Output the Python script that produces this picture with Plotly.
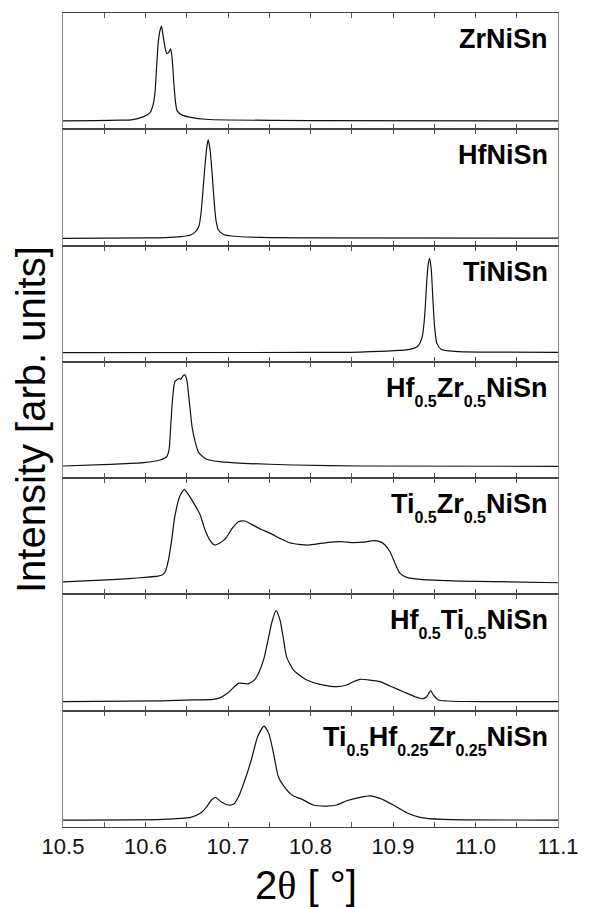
import plotly.graph_objects as go
from plotly.subplots import make_subplots

# 2-theta (degrees) and normalised intensity for each composition
samples = [
    ("ZrNiSn",),
    ("HfNiSn",),
    ("TiNiSn",),
    ("Hf", "0.5", "Zr", "0.5", "NiSn"),
    ("Ti", "0.5", "Zr", "0.5", "NiSn"),
    ("Hf", "0.5", "Ti", "0.5", "NiSn"),
    ("Ti", "0.5", "Hf", "0.25", "Zr", "0.25", "NiSn"),
]

zr_x = [10.500, 10.540, 10.570, 10.583, 10.597, 10.6055, 10.6095, 10.6115, 10.6136, 10.6155,
        10.6175, 10.6194, 10.6208, 10.6222, 10.6240, 10.6259, 10.6280, 10.6305, 10.6323,
        10.6343, 10.6364, 10.6384, 10.6445, 10.6566, 10.6727, 10.700, 10.800, 11.100]
zr_y = [0.000, 0.004, 0.008, 0.011, 0.043, 0.088, 0.180, 0.300, 0.585, 0.833,
        0.950, 1.000, 0.930, 0.850, 0.760, 0.710, 0.720, 0.760, 0.656,
        0.407, 0.195, 0.106, 0.061, 0.035, 0.018, 0.010, 0.004, 0.000]

hf_x = [10.500, 10.600, 10.6232, 10.6429, 10.6547, 10.6606, 10.6646, 10.6673, 10.6697, 10.6720,
        10.6744, 10.6760, 10.6783, 10.6807, 10.6831, 10.6854, 10.6882, 10.6941, 10.7040,
        10.7388, 10.800, 11.100]
hf_y = [0.000, 0.005, 0.008, 0.018, 0.035, 0.069, 0.120, 0.255, 0.490, 0.725,
        0.927, 1.000, 0.894, 0.658, 0.387, 0.185, 0.090, 0.043, 0.025,
        0.010, 0.006, 0.003]

ti_x = [10.500, 10.800, 10.8597, 10.9202, 10.9302, 10.9355, 10.9383, 10.9403, 10.9423, 10.9444,
        10.9464, 10.9484, 10.9504, 10.9532, 10.9585, 10.9806, 11.020, 11.100]
ti_y = [0.000, 0.003, 0.007, 0.035, 0.071, 0.170, 0.380, 0.664, 0.912, 1.000,
        0.876, 0.558, 0.276, 0.099, 0.035, 0.011, 0.006, 0.004]

hfzr_x = [10.500, 10.557, 10.5974, 10.6176, 10.6257, 10.6285, 10.6305, 10.6330, 10.6355, 10.6380,
          10.6410, 10.6428, 10.6455, 10.6475, 10.6498, 10.6525, 10.6565, 10.6605, 10.6645,
          10.6741, 10.6903, 10.7186, 10.7792, 10.860, 11.100]
hfzr_y = [0.004, 0.022, 0.040, 0.069, 0.106, 0.180, 0.430, 0.760, 0.925, 0.945,
          0.962, 0.952, 0.990, 1.000, 0.960, 0.760, 0.430, 0.260, 0.150,
          0.077, 0.051, 0.033, 0.015, 0.004, 0.000]

tizr_x = [10.500, 10.540, 10.580, 10.600, 10.615, 10.6201, 10.6239, 10.6278, 10.6317, 10.6355,
          10.6413, 10.6445, 10.6471, 10.6510, 10.6587, 10.6664, 10.6722, 10.6780, 10.6838,
          10.6896, 10.6973, 10.7050, 10.7127, 10.7205, 10.7282, 10.7398, 10.7514, 10.7630,
          10.7745, 10.7861, 10.7977, 10.8034, 10.8196, 10.8358, 10.8519, 10.8640, 10.8762,
          10.8842, 10.8903, 10.8964, 10.9024, 10.9085, 10.9166, 10.9327, 10.9812, 11.100]
tizr_y = [0.010, 0.025, 0.045, 0.058, 0.070, 0.082, 0.118, 0.243, 0.457, 0.707,
          0.921, 0.974, 1.000, 0.957, 0.850, 0.724, 0.564, 0.457, 0.404,
          0.422, 0.475, 0.582, 0.653, 0.661, 0.628, 0.572, 0.529, 0.475,
          0.428, 0.411, 0.404, 0.410, 0.430, 0.440, 0.430, 0.435, 0.450,
          0.440, 0.404, 0.332, 0.208, 0.100, 0.058, 0.036, 0.018, 0.000]

hfti_x = [10.500, 10.620, 10.6587, 10.6819, 10.6915, 10.6992, 10.7069, 10.7127, 10.7185, 10.7243,
          10.7320, 10.7378, 10.7436, 10.7494, 10.7533, 10.7583, 10.7630, 10.7668, 10.7711,
          10.7792, 10.7900, 10.7977, 10.8115, 10.8317, 10.8438, 10.8519, 10.8600, 10.8721,
          10.8842, 10.8964, 10.9125, 10.9267, 10.9368, 10.9408, 10.9457, 10.9489, 10.9550,
          10.9650, 11.0216, 11.100]
hfti_y = [0.000, 0.010, 0.020, 0.026, 0.048, 0.092, 0.158, 0.202, 0.202, 0.195,
          0.238, 0.330, 0.477, 0.714, 0.879, 1.000, 0.898, 0.714, 0.490,
          0.350, 0.270, 0.230, 0.191, 0.165, 0.184, 0.220, 0.246, 0.238,
          0.220, 0.173, 0.110, 0.055, 0.033, 0.055, 0.121, 0.074, 0.019,
          0.008, 0.000, 0.000]

tihfzr_x = [10.500, 10.6201, 10.6548, 10.6664, 10.6741, 10.6799, 10.6849, 10.6915, 10.7004, 10.7069,
            10.7127, 10.7205, 10.7282, 10.7359, 10.7436, 10.7494, 10.7552, 10.7610, 10.7668,
            10.7784, 10.7900, 10.8034, 10.8196, 10.8317, 10.8438, 10.8600, 10.8721, 10.8842,
            10.9004, 10.9166, 10.9327, 10.9610, 11.100]
tihfzr_y = [0.000, 0.007, 0.029, 0.071, 0.141, 0.213, 0.241, 0.195, 0.160, 0.170,
            0.248, 0.426, 0.638, 0.886, 1.000, 0.922, 0.710, 0.461, 0.372,
            0.260, 0.220, 0.160, 0.149, 0.160, 0.205, 0.241, 0.258, 0.230,
            0.160, 0.078, 0.029, 0.007, 0.000]

series_x = [zr_x, hf_x, ti_x, hfzr_x, tizr_x, hfti_x, tihfzr_x]
series_y = [zr_y, hf_y, ti_y, hfzr_y, tizr_y, hfti_y, tihfzr_y]

# vertical window of each panel (baseline 0, strongest reflection 1)
y_ranges = [(-0.088, 1.138), (-0.072, 1.103), (-0.097, 1.135), (-0.129, 1.143),
            (-0.125, 1.120), (-0.099, 1.179), (-0.074, 1.163)]

x_ticks = [10.5, 10.6, 10.7, 10.8, 10.9, 11.0, 11.1]
x_minor = [10.55, 10.65, 10.75, 10.85, 10.95, 11.05]

W, H = 606, 907
ML, MR, MT, MB = 63, 48, 13, 80
n = len(samples)


def formula(parts):
    # element symbols alternate with their (smaller, lowered) fractions
    out = []
    for k, p in enumerate(parts):
        if k % 2 == 1:
            out.append(f'<sub><sub><span style="font-size:16px">{p}</span></sub></sub>')
        else:
            out.append(p)
    return "<b>" + "".join(out) + "</b>"


fig = make_subplots(rows=n, cols=1, shared_xaxes=True, vertical_spacing=0)

for i in range(n):
    fig.add_trace(
        go.Scatter(x=series_x[i], y=series_y[i], mode="lines",
                   line=dict(color="#111111", width=1.2, shape="spline", smoothing=0.6),
                   showlegend=False, hoverinfo="skip"),
        row=i + 1, col=1)
    fig.update_yaxes(range=list(y_ranges[i]), row=i + 1, col=1)

fig.update_xaxes(
    range=[10.5, 11.1], tickvals=x_ticks, ticktext=[f"{v:.1f}" for v in x_ticks],
    ticks="inside", ticklen=5, tickwidth=1, tickcolor="#555555",
    minor=dict(tickvals=x_minor, ticks="inside", ticklen=5, tickwidth=1, tickcolor="#555555"),
    showline=True, linecolor="#444444", linewidth=1, mirror="ticks",
    showgrid=False, zeroline=False,
    tickfont=dict(family="Liberation Sans, Arial", size=22, color="#111111"),
)
fig.update_yaxes(
    showline=True, linecolor="#8a8a8a", linewidth=1.2, mirror=True,
    showticklabels=False, ticks="", showgrid=False, zeroline=False,
)

plot_h = H - MT - MB
panel_h = plot_h / n
annotations = []
for i, parts in enumerate(samples):
    top_px = MT + i * panel_h
    annotations.append(dict(
        text=formula(parts), xref="paper", yref="paper",
        x=1.0, xshift=-8, xanchor="right",
        y=1 - (top_px - MT + 9) / plot_h, yanchor="top",
        showarrow=False,
        font=dict(family="Liberation Sans, Arial", size=27, color="#000000"),
    ))

annotations.append(dict(
    text="Intensity [arb. units]", xref="paper", yref="paper",
    x=0, xshift=-32, y=0.5, xanchor="center", yanchor="middle",
    textangle=-90, showarrow=False,
    font=dict(family="Liberation Sans, Arial", size=40, color="#000000"),
))
annotations.append(dict(
    text='2<span style="font-family:Liberation Serif">θ</span> [ °]',
    xref="paper", yref="paper",
    x=0.49, y=0, yshift=-(885 - (H - MB)), xanchor="center", yanchor="middle",
    showarrow=False,
    font=dict(family="Liberation Sans, Arial", size=40, color="#000000"),
))

fig.update_layout(
    width=W, height=H,
    margin=dict(l=ML, r=MR, t=MT, b=MB),
    paper_bgcolor="white", plot_bgcolor="white",
    annotations=annotations,
)

fig.write_html("out.html")
